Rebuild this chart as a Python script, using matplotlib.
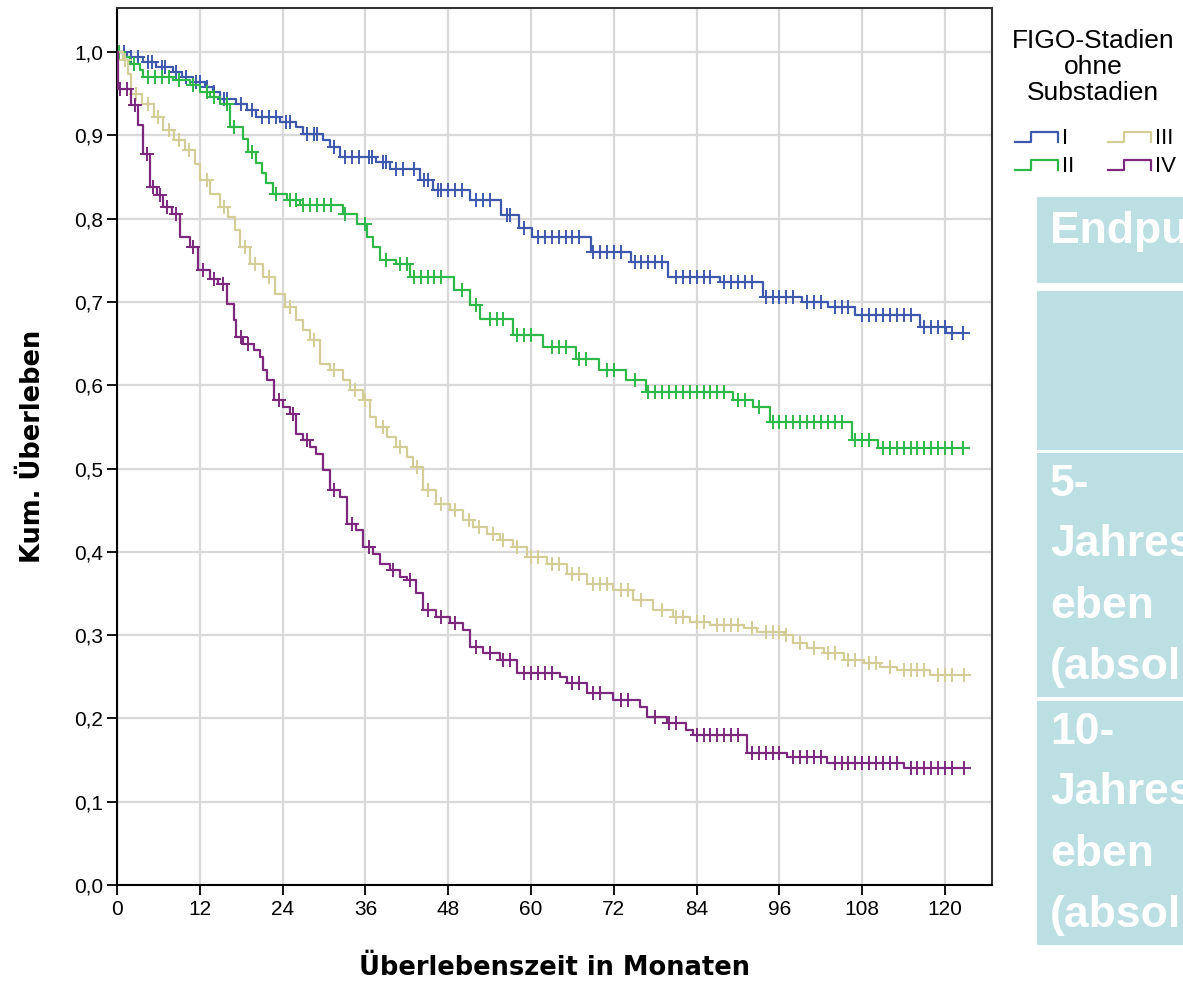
import numpy as np
import matplotlib
matplotlib.use("Agg")
import matplotlib.pyplot as plt
from matplotlib.lines import Line2D
from matplotlib.patches import Rectangle

plt.rcParams['font.family'] = ['Liberation Sans', 'DejaVu Sans']

# --- Kaplan-Meier step data (time in months, cum. survival after the step) ---
t_I = [0, 1.4, 3.8, 5.7, 8.1, 9.4, 11.0, 12.8, 13.9, 14.9, 17.3, 18.8, 20.2, 23.6, 26.0, 27.0,
       29.9, 30.9, 32.3, 37.6, 39.6, 43.9, 45.8, 51.2, 55.6, 58.3, 60.2, 68.7, 74.5, 79.8, 87.4,
       93.6, 99.2, 103.0, 107.0, 116.4, 120.2]
s_I = [1.0, 0.994, 0.988, 0.982, 0.976, 0.970, 0.964, 0.958, 0.952, 0.944, 0.938, 0.930, 0.922,
       0.916, 0.910, 0.902, 0.894, 0.886, 0.874, 0.868, 0.860, 0.846, 0.834, 0.822, 0.804, 0.789,
       0.778, 0.760, 0.748, 0.730, 0.724, 0.706, 0.700, 0.694, 0.684, 0.670, 0.663]
c_I = [1, 2, 3, 4.5, 5, 6.5, 7, 8.5, 10, 11.5, 12, 13, 14, 15.5, 16, 18, 19.5, 21, 22, 23, 24.5,
       25, 27.5, 28.5, 29, 31.5, 33, 34, 35, 36.5, 37, 38.5, 39, 40.5, 41.5, 43, 44.5, 45, 46.5,
       47, 48, 49, 50, 52, 53, 54, 56.5, 57, 59, 61, 62, 63, 64, 65, 66, 67, 69, 70, 71, 72, 73,
       75, 76, 77, 78, 79, 81, 82, 83, 84, 85, 86, 88, 89, 90, 91, 92, 94, 95, 96, 97, 98, 100,
       101, 102, 104, 105, 106, 108, 109, 110, 111, 112, 113, 114, 115, 117, 118, 119, 120, 121,
       122.6]

t_II = [0, 0.9, 1.9, 3.3, 3.8, 8.1, 10.6, 12.0, 13.5, 14.9, 16.4, 18.3, 19.0, 20.2, 21.0, 21.6,
        22.6, 24.6, 26.5, 32.8, 34.8, 36.2, 37.1, 38.1, 40.5, 42.5, 48.8, 51.2, 52.6, 57.4, 61.7,
        66.5, 69.9, 73.7, 76.6, 89.3, 92.2, 94.6, 106.5, 110.3]
s_II = [1.0, 0.994, 0.986, 0.978, 0.970, 0.966, 0.960, 0.952, 0.946, 0.938, 0.910, 0.896, 0.880,
        0.867, 0.855, 0.843, 0.830, 0.822, 0.816, 0.806, 0.794, 0.778, 0.766, 0.750, 0.746, 0.730,
        0.714, 0.696, 0.680, 0.660, 0.646, 0.632, 0.618, 0.606, 0.592, 0.582, 0.574, 0.556, 0.534,
        0.525]
c_II = [0.3, 2.5, 4.5, 5.5, 6.5, 7.5, 9, 11, 13, 14, 16, 17, 19.5, 23, 25, 26, 27, 28, 29, 30, 31,
        33, 36, 39, 41, 42, 43, 44, 45, 46, 47, 50, 52, 54, 55, 56, 58, 59, 60, 63, 64, 65, 67, 68,
        71, 72, 75, 77, 78, 79, 80, 81, 82, 83, 84, 85, 86, 87, 88, 90, 91, 93, 95, 96, 97, 98, 99,
        100, 101, 102, 103, 104, 105, 107, 108, 109, 111, 112, 113, 114, 115, 116, 117, 118, 119,
        120, 121, 122.6]

t_III = [0, 0.9, 1.6, 2.1, 3.6, 5.3, 6.7, 8.2, 9.9, 11.3, 12.0, 13.5, 14.9, 16.1, 17.1, 17.8,
         19.3, 21.2, 22.9, 24.3, 26.0, 27.0, 28.0, 29.4, 30.9, 32.8, 33.8, 35.7, 36.7, 37.6, 39.1,
         40.5, 42.0, 42.9, 44.4, 46.3, 48.3, 50.2, 51.6, 53.6, 55.5, 57.4, 59.4, 62.3, 65.2, 68.1,
         71.9, 74.8, 77.7, 80.6, 83.0, 85.9, 90.8, 92.7, 96.6, 98.0, 100.0, 102.4, 105.3, 108.2,
         110.6, 113.0, 117.8]
s_III = [1.0, 0.990, 0.974, 0.950, 0.938, 0.922, 0.906, 0.894, 0.882, 0.866, 0.846, 0.830, 0.814,
         0.802, 0.786, 0.766, 0.746, 0.730, 0.710, 0.694, 0.678, 0.666, 0.654, 0.626, 0.618, 0.606,
         0.594, 0.582, 0.562, 0.550, 0.538, 0.526, 0.514, 0.502, 0.474, 0.458, 0.450, 0.438, 0.430,
         0.422, 0.414, 0.406, 0.394, 0.386, 0.374, 0.362, 0.354, 0.342, 0.330, 0.322, 0.316, 0.312,
         0.308, 0.304, 0.300, 0.290, 0.284, 0.278, 0.270, 0.266, 0.262, 0.258, 0.252]
c_III = [1.2, 2.8, 4.5, 6, 7.5, 9, 10.5, 13, 15.5, 18.5, 20, 22, 25, 28.5, 31.5, 34.5, 36, 38.5,
         41, 43.5, 45, 47, 49, 51, 52.5, 54.5, 56, 58, 60, 61, 63, 64, 66, 67, 69, 70, 71, 73, 74,
         76, 79, 81, 82, 84, 85, 87, 88, 89, 90, 92, 94, 95, 96, 97, 99, 101, 103, 104, 106, 107,
         109, 110, 112, 114, 115, 116, 117, 119, 120, 121, 122.7]

t_IV = [0, 0.2, 2.1, 3.1, 3.8, 4.8, 5.75, 6.7, 7.9, 9.1, 10.6, 11.8, 13.5, 14.7, 15.9, 16.9, 17.3,
        18.3, 19.8, 20.7, 21.2, 21.7, 22.7, 24.1, 25.1, 26.0, 27.0, 28.0, 28.9, 29.9, 30.9, 32.3,
        33.3, 34.7, 35.7, 37.1, 38.1, 39.6, 41.0, 42.0, 43.4, 44.4, 46.3, 48.3, 50.2, 51.2, 53.1,
        55.5, 57.9, 64.2, 65.2, 68.1, 71.9, 75.8, 76.8, 79.7, 82.5, 83.5, 91.3, 97.1, 102.9, 114.0]
s_IV = [1.0, 0.956, 0.936, 0.912, 0.878, 0.838, 0.828, 0.814, 0.806, 0.778, 0.766, 0.738, 0.728,
        0.722, 0.698, 0.678, 0.658, 0.650, 0.642, 0.634, 0.618, 0.606, 0.582, 0.574, 0.566, 0.542,
        0.534, 0.526, 0.518, 0.498, 0.474, 0.466, 0.434, 0.426, 0.406, 0.398, 0.386, 0.378, 0.370,
        0.366, 0.350, 0.330, 0.322, 0.314, 0.306, 0.286, 0.278, 0.270, 0.254, 0.250, 0.242, 0.230,
        0.222, 0.214, 0.202, 0.194, 0.186, 0.180, 0.158, 0.154, 0.146, 0.140]
c_IV = [0.5, 1.5, 2.6, 4.3, 5.2, 6.2, 7.2, 8.5, 11, 12.5, 14, 15.3, 18, 19, 23.5, 25.5, 27.5, 31.5,
        34, 36.5, 40, 42.5, 45, 47, 49, 52, 54, 56, 57, 59, 60, 61, 62, 63, 66, 67, 69, 70, 73, 74,
        78, 80, 81, 84, 85, 86, 87, 88, 89, 90, 92, 93, 94, 95, 96, 98, 99, 100, 101, 102, 104, 105,
        106, 107, 108, 109, 110, 111, 112, 113, 115, 116, 117, 118, 119, 120, 121, 122.7]

groups = ["I", "II", "III", "IV"]
colors = ["#3E58AC", "#2EB848", "#D3CE97", "#7C287D"]
series = [(t_I, s_I, c_I), (t_II, s_II, c_II), (t_III, s_III, c_III), (t_IV, s_IV, c_IV)]

yticks = [0.0, 0.1, 0.2, 0.3, 0.4, 0.5, 0.6, 0.7, 0.8, 0.9, 1.0]
xticks = [0, 12, 24, 36, 48, 60, 72, 84, 96, 108, 120]

fig = plt.figure(figsize=(11.83, 9.82), dpi=100)
ax = fig.add_axes([117 / 1183, 1 - 885 / 982, 875 / 1183, 877 / 982])

for (t, s, c), col in zip(series, colors):
    t = np.array(t)
    s = np.array(s)
    c = np.array(c)
    tx = np.append(t, c.max())
    sy = np.append(s, s[-1])
    ax.step(tx, sy, where="post", color=col, lw=1.6, zorder=3)
    idx = np.searchsorted(t, c, side="right") - 1
    ax.plot(c, s[idx], ls="none", marker="+", ms=10, mew=1.4, color=col, zorder=3)

ax.set_xlim(0, 126.8)
ax.set_ylim(0, 1.053)
ax.set_xticks(xticks)
ax.set_yticks(yticks)
ax.set_yticklabels([f"{v:.1f}".replace(".", ",") for v in yticks])
ax.grid(True, color="#D9D9D9", lw=1.6, zorder=0)
ax.set_axisbelow(True)
ax.tick_params(direction="out", length=7, width=1.3, labelsize=15, color="black")
ax.tick_params(axis="x", pad=4)
ax.tick_params(axis="y", pad=3)
for side in ["left", "bottom"]:
    ax.spines[side].set_color("black")
    ax.spines[side].set_linewidth(1.5)
for side in ["top", "right"]:
    ax.spines[side].set_color("#333333")
    ax.spines[side].set_linewidth(1.5)

ax.set_xlabel("Überlebenszeit in Monaten", fontsize=18.5, fontweight="bold",
              family="DejaVu Sans", labelpad=26)
ax.set_ylabel("Kum. Überleben", fontsize=18.5, fontweight="bold",
              family="DejaVu Sans", labelpad=20)

# legend drawn by hand, SPSS style step symbols
W, H = 1183.0, 982.0
fig.text(1093 / W, 1 - 67 / H, "FIGO-Stadien\nohne\nSubstadien", ha="center", va="center",
         fontsize=19, linespacing=1.1)
legend_pos = [(1015, 142), (1015, 170), (1108, 142), (1108, 170)]
for (x0, y0), name, col in zip(legend_pos, groups, colors):
    xs = np.array([x0, x0 + 16, x0 + 16, x0 + 43, x0 + 43]) / W
    ys = 1 - np.array([y0, y0, y0 - 10, y0 - 10, y0]) / H
    fig.add_artist(Line2D(xs, ys, color=col, lw=1.6))
    fig.text((x0 + 47) / W, 1 - (y0 - 4) / H, name, ha="left", va="center", fontsize=16)

# table fragment on the right (cut off by the page edge, as in the original)
cell_color = "#BBDFE2"
rows = [(197, 283), (291, 450), (453, 697), (701, 945)]
for top, bottom in rows:
    fig.add_artist(Rectangle((1037 / W, 1 - bottom / H), (W - 1037) / W, (bottom - top) / H,
                             transform=fig.transFigure, facecolor=cell_color, edgecolor="none"))
cell_text = [
    (232, "Endpunkt"),
    (485, "5-"), (545, "Jahresüberl"), (607, "eben"), (668, "(absolut)"),
    (733, "10-"), (793, "Jahresüberl"), (855, "eben"), (915, "(absolut)"),
]
for y, s in cell_text:
    fig.text(1050 / W, 1 - y / H, s, ha="left", va="center", fontsize=32,
             fontweight="bold", color="white")

fig.savefig("out.png", dpi=100)
